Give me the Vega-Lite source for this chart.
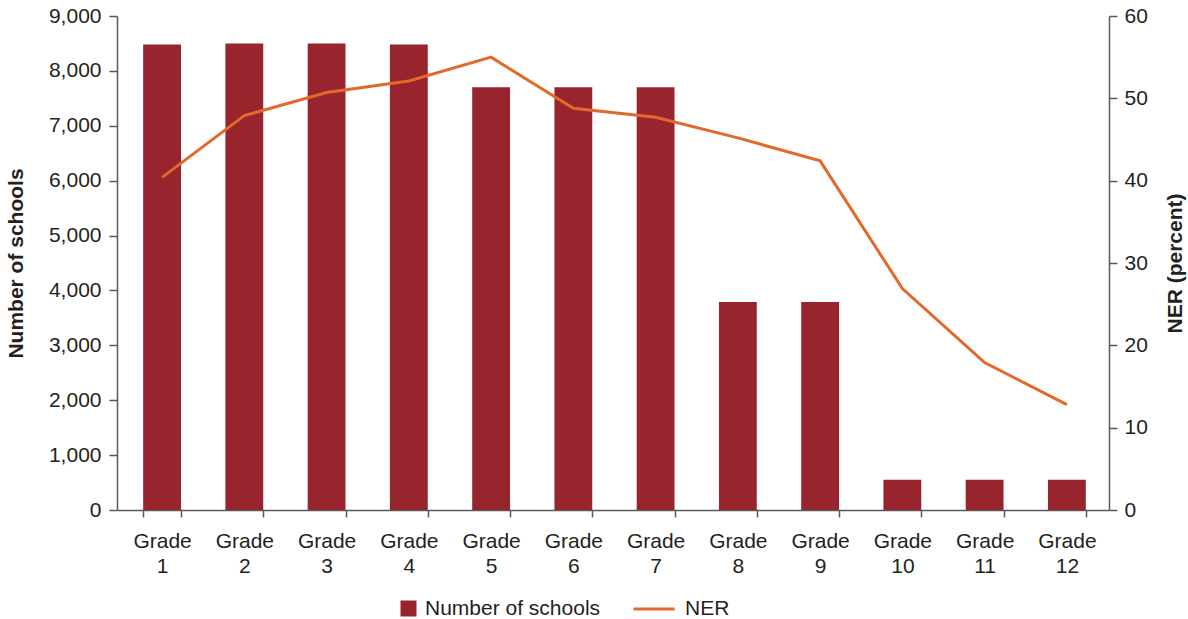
{
  "$schema": "https://vega.github.io/schema/vega-lite/v6.json",
  "width": 992,
  "height": 494,
  "autosize": {"type": "none"},
  "padding": {"left": 117, "top": 16, "right": 79, "bottom": 109},
  "config": {
    "view": {"stroke": null},
    "font": "Liberation Sans",
    "axis": {
      "domainColor": "#5a5a5a",
      "domainWidth": 1.5,
      "tickColor": "#5a5a5a",
      "tickWidth": 1.5,
      "labelFont": "Liberation Sans",
      "labelFontSize": 21,
      "labelColor": "#231f20",
      "titleFont": "Liberation Sans",
      "titleFontSize": 21,
      "titleFontWeight": "bold",
      "titleColor": "#231f20",
      "grid": false
    },
    "legend": {
      "labelFont": "Liberation Sans",
      "labelFontSize": 21,
      "labelColor": "#231f20",
      "labelLimit": 400,
      "padding": 0
    }
  },
  "data": {
    "values": [
      {"grade": "Grade 1", "schools": 8480, "ner": 40.4},
      {"grade": "Grade 2", "schools": 8500, "ner": 47.9},
      {"grade": "Grade 3", "schools": 8500, "ner": 50.7},
      {"grade": "Grade 4", "schools": 8480, "ner": 52.1},
      {"grade": "Grade 5", "schools": 7700, "ner": 55.0},
      {"grade": "Grade 6", "schools": 7700, "ner": 48.8},
      {"grade": "Grade 7", "schools": 7700, "ner": 47.7},
      {"grade": "Grade 8", "schools": 3790, "ner": 45.2},
      {"grade": "Grade 9", "schools": 3790, "ner": 42.4},
      {"grade": "Grade 10", "schools": 550, "ner": 26.9},
      {"grade": "Grade 11", "schools": 550, "ner": 17.9},
      {"grade": "Grade 12", "schools": 550, "ner": 12.8}
    ]
  },
  "encoding": {
    "x": {
      "field": "grade",
      "type": "nominal",
      "sort": null,
      "scale": {"paddingInner": 0.54, "paddingOuter": 0.3, "align": 0.53},
      "axis": {
        "title": null,
        "labelAngle": 0,
        "labelExpr": "split(datum.label, ' ')",
        "labelLineHeight": 25,
        "labelPadding": 13,
        "tickBand": "extent",
        "tickSize": 7
      }
    }
  },
  "layer": [
    {
      "mark": {"type": "bar"},
      "encoding": {
        "y": {
          "field": "schools",
          "type": "quantitative",
          "scale": {"domain": [0, 9000]},
          "axis": {
            "title": "Number of schools",
            "values": [0, 1000, 2000, 3000, 4000, 5000, 6000, 7000, 8000, 9000],
            "format": ",.0f",
            "tickSize": 8,
            "labelPadding": 8,
            "titlePadding": 22
          }
        },
        "fill": {
          "datum": "Number of schools",
          "scale": {"range": ["#98252d"]},
          "legend": {
            "title": null,
            "orient": "none",
            "legendX": 281,
            "legendY": 582,
            "symbolType": "square",
            "symbolSize": 256,
            "symbolStrokeWidth": 0,
            "labelOffset": 6
          }
        }
      }
    },
    {
      "mark": {"type": "line", "strokeWidth": 3},
      "encoding": {
        "y": {
          "field": "ner",
          "type": "quantitative",
          "scale": {"domain": [0, 60]},
          "axis": {
            "orient": "right",
            "title": "NER (percent)",
            "values": [0, 10, 20, 30, 40, 50, 60],
            "tickSize": 8,
            "labelPadding": 7,
            "titleAngle": 270,
            "titleBaseline": "top",
            "titlePadding": 17
          }
        },
        "stroke": {
          "datum": "NER",
          "scale": {"range": ["#e2692a"]},
          "legend": {
            "title": null,
            "orient": "none",
            "legendX": 515,
            "legendY": 571,
            "symbolType": "stroke",
            "symbolSize": 1681,
            "symbolStrokeWidth": 3,
            "labelOffset": 9
          }
        }
      }
    }
  ],
  "resolve": {"scale": {"y": "independent"}}
}
